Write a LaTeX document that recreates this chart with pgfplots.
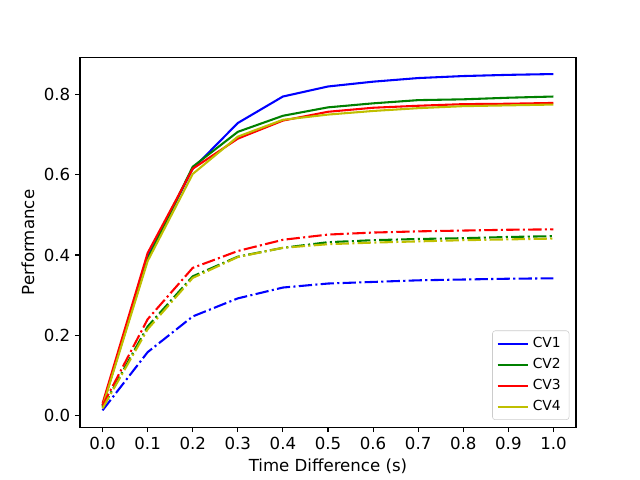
\documentclass[border=0pt]{standalone}
\usepackage{pgfplots}
\pgfplotsset{compat=1.18}
\usepackage{fontspec}
\setmainfont{DejaVu Sans}
\definecolor{mb}{rgb}{0,0,1}
\definecolor{mg}{rgb}{0,0.5,0}
\definecolor{mr}{rgb}{1,0,0}
\definecolor{my}{rgb}{0.75,0.75,0}
\tikzset{mdashdot/.style={dash pattern=on 9.6pt off 2.4pt on 1.5pt off 2.4pt}}
\begin{document}
\begin{tikzpicture}
\path[use as bounding box] (-0.8in,-0.528in) rectangle (5.6in,4.272in);
\begin{axis}[
  at={(0,0)}, anchor=south west,
  scale only axis, width=4.96in, height=3.696in,
  xmin=-0.05, xmax=1.05, ymin=-0.029, ymax=0.892,
  xtick={0,0.1,...,1.0}, ytick={0,0.2,0.4,0.6,0.8},
  xticklabel style={/pgf/number format/.cd,fixed,fixed zerofill,precision=1},
  yticklabel style={/pgf/number format/.cd,fixed,fixed zerofill,precision=1},
  /pgf/number format/assume math mode=true,
  ticklabel style={font=\fontsize{12}{14}\selectfont},
  label style={font=\fontsize{12}{14}\selectfont},
  tick align=outside, tick pos=left,
  major tick length=3.5pt,
  every tick/.style={line width=0.8pt, black},
  axis line style={line width=0.8pt},
  xlabel={Time Difference (s)}, ylabel={Performance},
  legend cell align=left,
  legend style={at={(rel axis cs:0.9865,0.0195)}, anchor=south east,
    draw=black!20, rounded corners=2pt, fill=white, fill opacity=0.8, text opacity=1,
    font=\fontsize{10}{12}\selectfont, row sep=2.2pt, inner xsep=3pt, inner ysep=3pt,
    nodes={inner xsep=3pt}},
  legend image code/.code={\draw[#1] (0cm,0cm) -- (0.76cm,0cm);},
  every axis plot/.append style={line width=1.5pt},
]
\addplot[mb] coordinates {(0,0.025)(0.1,0.395)(0.2,0.615)(0.3,0.729)(0.4,0.795)(0.5,0.82)(0.6,0.832)(0.7,0.841)(0.8,0.846)(0.9,0.849)(1.0,0.851)};
\addlegendentry{CV1}
\addplot[mg] coordinates {(0,0.025)(0.1,0.39)(0.2,0.62)(0.3,0.707)(0.4,0.747)(0.5,0.768)(0.6,0.778)(0.7,0.786)(0.8,0.788)(0.9,0.792)(1.0,0.795)};
\addlegendentry{CV2}
\addplot[mr] coordinates {(0,0.03)(0.1,0.405)(0.2,0.615)(0.3,0.69)(0.4,0.735)(0.5,0.757)(0.6,0.767)(0.7,0.772)(0.8,0.776)(0.9,0.777)(1.0,0.779)};
\addlegendentry{CV3}
\addplot[my] coordinates {(0,0.022)(0.1,0.385)(0.2,0.602)(0.3,0.695)(0.4,0.737)(0.5,0.75)(0.6,0.759)(0.7,0.766)(0.8,0.771)(0.9,0.773)(1.0,0.775)};
\addlegendentry{CV4}
\addplot[mb, mdashdot, forget plot] coordinates {(0,0.013)(0.1,0.158)(0.2,0.247)(0.3,0.292)(0.4,0.319)(0.5,0.329)(0.6,0.333)(0.7,0.337)(0.8,0.339)(0.9,0.341)(1.0,0.342)};
\addplot[mg, mdashdot, forget plot] coordinates {(0,0.02)(0.1,0.222)(0.2,0.347)(0.3,0.396)(0.4,0.418)(0.5,0.432)(0.6,0.437)(0.7,0.440)(0.8,0.442)(0.9,0.445)(1.0,0.447)};
\addplot[mr, mdashdot, forget plot] coordinates {(0,0.025)(0.1,0.24)(0.2,0.368)(0.3,0.41)(0.4,0.438)(0.5,0.451)(0.6,0.456)(0.7,0.459)(0.8,0.461)(0.9,0.463)(1.0,0.464)};
\addplot[my, mdashdot, forget plot] coordinates {(0,0.018)(0.1,0.215)(0.2,0.343)(0.3,0.395)(0.4,0.418)(0.5,0.427)(0.6,0.431)(0.7,0.434)(0.8,0.437)(0.9,0.439)(1.0,0.441)};
\end{axis}
\end{tikzpicture}
\end{document}
